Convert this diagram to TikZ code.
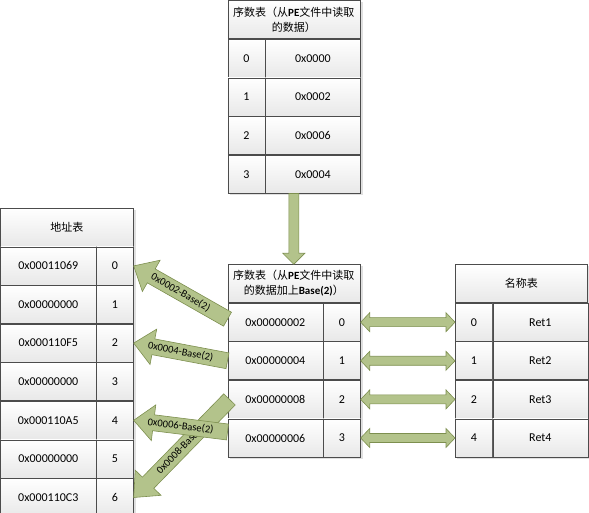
\documentclass[tikz,border=0pt]{standalone}
\usepackage{fontspec}
\setmainfont{Carlito}
\newfontfamily\cjk{Noto Sans CJK SC}
\usetikzlibrary{calc,backgrounds}

\tikzset{
	cell/.style={draw=black!70, line width=0.6pt, top color=white, bottom color=black!9, minimum height=38pt, inner sep=0pt, anchor=north west, font=\fontsize{12}{14}\selectfont},
	narrow/.style={cell, minimum width=37pt},
	wide/.style={cell, minimum width=95pt},
	header/.style={cell, minimum width=132pt, align=center, font=\fontsize{11}{15}\selectfont},
	tabshadow/.style={fill=black!12},
	fat/.style={draw=arrowline, fill=arrowfill, line width=0.6pt, line join=miter},
	arrowtext/.style={sloped, inner sep=0pt, font=\fontsize{10.5}{12}\selectfont},
	fat arrow/.style n args={3}{to path={
		let \p1=(\tikztostart), \p2=(\tikztotarget),
			\n1={atan2(\y2-\y1,\x2-\x1)}, \n2={veclen(\x2-\x1,\y2-\y1)} in
		($(\p1)+(\n1+90:#1)$) -- ($(\p1)+(\n1:\n2-#3)+(\n1+90:#1)$)
		-- ($(\p1)+(\n1:\n2-#3)+(\n1+90:#2)$) -- (\p2)
		-- ($(\p1)+(\n1:\n2-#3)+(\n1-90:#2)$) -- ($(\p1)+(\n1:\n2-#3)+(\n1-90:#1)$)
		-- ($(\p1)+(\n1-90:#1)$) -- cycle}},
	twin arrow/.style n args={3}{to path={
		let \p1=(\tikztostart), \p2=(\tikztotarget),
			\n1={atan2(\y2-\y1,\x2-\x1)}, \n2={veclen(\x2-\x1,\y2-\y1)} in
		(\p1) -- ($(\p1)+(\n1:#3)+(\n1+90:#2)$) -- ($(\p1)+(\n1:#3)+(\n1+90:#1)$)
		-- ($(\p1)+(\n1:\n2-#3)+(\n1+90:#1)$) -- ($(\p1)+(\n1:\n2-#3)+(\n1+90:#2)$) -- (\p2)
		-- ($(\p1)+(\n1:\n2-#3)+(\n1-90:#2)$) -- ($(\p1)+(\n1:\n2-#3)+(\n1-90:#1)$)
		-- ($(\p1)+(\n1:#3)+(\n1-90:#1)$) -- ($(\p1)+(\n1:#3)+(\n1-90:#2)$) -- cycle}},
}

\begin{document}
\begin{tikzpicture}[x=1pt,y=1pt]
	\definecolor{arrowfill}{HTML}{B3C38B}
	\definecolor{arrowline}{HTML}{7D8F4F}
	\useasboundingbox (0,0) rectangle (589,513);

	% ordinal table read from the PE file
	\node[header] (hOrd) at (227.5,512.5) {{\cjk 序数表（从}\textbf{PE}{\cjk 文件中读取}\\{\cjk 的数据）}};
	\node[narrow] (oi0) at (hOrd.south west) {0}; \node[wide] (ov0) at (oi0.north east) {0x0000};
	\node[narrow] (oi1) at (oi0.south west) {1}; \node[wide] (ov1) at (oi1.north east) {0x0002};
	\node[narrow] (oi2) at (oi1.south west) {2}; \node[wide] (ov2) at (oi2.north east) {0x0006};
	\node[narrow] (oi3) at (oi2.south west) {3}; \node[wide] (ov3) at (oi3.north east) {0x0004};

	% address table
	\node[header] (hAddr) at (0.5,305) {\cjk 地址表};
	\node[wide] (av0) at (hAddr.south west) {0x00011069}; \node[narrow] (ai0) at (av0.north east) {0};
	\node[wide] (av1) at (av0.south west) {0x00000000}; \node[narrow] (ai1) at (av1.north east) {1};
	\node[wide] (av2) at (av1.south west) {0x000110F5}; \node[narrow] (ai2) at (av2.north east) {2};
	\node[wide] (av3) at (av2.south west) {0x00000000}; \node[narrow] (ai3) at (av3.north east) {3};
	\node[wide] (av4) at (av3.south west) {0x000110A5}; \node[narrow] (ai4) at (av4.north east) {4};
	\node[wide] (av5) at (av4.south west) {0x00000000}; \node[narrow] (ai5) at (av5.north east) {5};
	\node[wide] (av6) at (av5.south west) {0x000110C3}; \node[narrow] (ai6) at (av6.north east) {6};

	% ordinal table plus Base(2)
	\node[header] (hBase) at (227.5,248.7) {{\cjk 序数表（从}\textbf{PE}{\cjk 文件中读取}\\{\cjk 的数据加上}\textbf{Base(2)}{\cjk ）}};
	\node[wide] (bv0) at (hBase.south west) {0x00000002}; \node[narrow] (bi0) at (bv0.north east) {0};
	\node[wide] (bv1) at (bv0.south west) {0x00000004}; \node[narrow] (bi1) at (bv1.north east) {1};
	\node[wide] (bv2) at (bv1.south west) {0x00000008}; \node[narrow] (bi2) at (bv2.north east) {2};
	\node[wide] (bv3) at (bv2.south west) {0x00000006}; \node[narrow] (bi3) at (bv3.north east) {3};

	% name table
	\node[header] (hName) at (455,248.7) {\cjk 名称表};
	\node[narrow] (ni0) at (hName.south west) {0}; \node[wide] (nv0) at (ni0.north east) {Ret1};
	\node[narrow] (ni1) at (ni0.south west) {1}; \node[wide] (nv1) at (ni1.north east) {Ret2};
	\node[narrow] (ni2) at (ni1.south west) {2}; \node[wide] (nv2) at (ni2.north east) {Ret3};
	\node[narrow] (ni3) at (ni2.south west) {4}; \node[wide] (nv3) at (ni3.north east) {Ret4};

	\begin{scope}[on background layer]
		\fill[tabshadow] ([shift={(2,-2)}]hOrd.north west) rectangle ([shift={(2,-2)}]ov3.south east);
		\fill[tabshadow] ([shift={(2,-2)}]hAddr.north west) rectangle ([shift={(2,-2)}]ai6.south east);
		\fill[tabshadow] ([shift={(2,-2)}]hBase.north west) rectangle ([shift={(2,-2)}]bi3.south east);
		\fill[tabshadow] ([shift={(2,-2)}]hName.north west) rectangle ([shift={(2,-2)}]nv3.south east);
	\end{scope}

	% arrow ends
	\coordinate (down) at (hOrd.center |- ov3.south);
	\coordinate (t0) at ([yshift=3pt]bv0.west);
	\coordinate (t2) at ([xshift=2pt]bv2.west);
	\coordinate (t3) at ([yshift=6pt]bv3.west);

	\draw[fat, fat arrow={5pt}{11pt}{11pt}] (down) to (hBase.north);

	\draw[fat, fat arrow={8pt}{18pt}{20pt}] (t0) to (ai0.east);
	\path (t0) -- node[arrowtext] {0x0002-Base(2)} (ai0.east);
	\draw[fat, fat arrow={8pt}{18pt}{20pt}] (bv1.west) to (ai2.east);
	\path (bv1.west) -- node[arrowtext] {0x0004-Base(2)} (ai2.east);
	\draw[fat, fat arrow={8pt}{18pt}{20pt}] (t2) to (ai6.east);
	\path (t2) -- node[arrowtext] {0x0008-Base(2)} (ai6.east);
	\draw[fat, fat arrow={8pt}{18pt}{20pt}] (t3) to (ai4.east);
	\path (t3) -- node[arrowtext] {0x0006-Base(2)} (ai4.east);

	\draw[fat, twin arrow={4.5pt}{9.5pt}{9pt}] (bi0.east) to (ni0.west);
	\draw[fat, twin arrow={4.5pt}{9.5pt}{9pt}] (bi1.east) to (ni1.west);
	\draw[fat, twin arrow={4.5pt}{9.5pt}{9pt}] (bi2.east) to (ni2.west);
	\draw[fat, twin arrow={4.5pt}{9.5pt}{9pt}] (bi3.east) to (ni3.west);
\end{tikzpicture}
\end{document}
